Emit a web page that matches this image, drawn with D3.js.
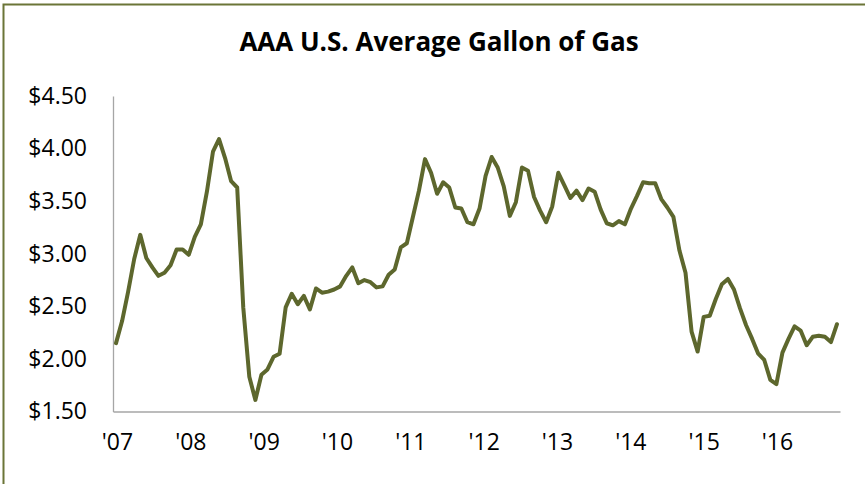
<!DOCTYPE html>
<html>
<head>
<meta charset="utf-8">
<script src="https://cdn.jsdelivr.net/npm/d3@7"></script>
<style>
  html, body { margin: 0; padding: 0; background: #ffffff; }
  svg { display: block; }
  text { font-family: "Open Sans", "Noto Sans", sans-serif; fill: #000; }
</style>
</head>
<body>
<svg id="chart" width="865" height="484"></svg>
<script>
// ---- Data ----
const title = "AAA U.S. Average Gallon of Gas";
const startYear = 2007;
const yearLabels = ["'07", "'08", "'09", "'10", "'11", "'12", "'13", "'14", "'15", "'16"];
// Monthly average price, Jan 2007 – Dec 2016
const prices = [
  2.15, 2.36, 2.64, 2.95, 3.18, 2.96, 2.87, 2.79, 2.82, 2.89, 3.04, 3.04,
  2.99, 3.16, 3.28, 3.59, 3.97, 4.09, 3.91, 3.69, 3.63, 2.49, 1.83, 1.61,
  1.85, 1.90, 2.02, 2.05, 2.49, 2.62, 2.52, 2.60, 2.47, 2.67, 2.63, 2.64,
  2.66, 2.69, 2.79, 2.87, 2.72, 2.75, 2.73, 2.68, 2.69, 2.80, 2.85, 3.06,
  3.10, 3.35, 3.60, 3.90, 3.77, 3.57, 3.68, 3.63, 3.44, 3.43, 3.30, 3.28,
  3.43, 3.74, 3.92, 3.82, 3.64, 3.36, 3.49, 3.82, 3.79, 3.54, 3.41, 3.30,
  3.45, 3.77, 3.65, 3.53, 3.60, 3.51, 3.62, 3.59, 3.42, 3.29, 3.27, 3.31,
  3.28, 3.43, 3.55, 3.68, 3.67, 3.67, 3.52, 3.44, 3.35, 3.03, 2.82, 2.26,
  2.07, 2.40, 2.41, 2.57, 2.71, 2.76, 2.66, 2.48, 2.32, 2.19, 2.05, 1.99,
  1.80, 1.76, 2.06, 2.19, 2.31, 2.27, 2.13, 2.21, 2.22, 2.21, 2.16, 2.33
];
const yTicks = [1.5, 2.0, 2.5, 3.0, 3.5, 4.0, 4.5];

// ---- Layout ----
const svg = d3.select("#chart");
const plot = { left: 113, right: 840, top: 96, bottom: 411.5 };
const lineColor = "#5d672d";
const frameColor = "#6b7537";
const axisColor = "#a6a6a6";

// frame (top and left edges visible, rest cropped)
svg.append("rect")
  .attr("x", 3.5).attr("y", 4.5)
  .attr("width", 1000).attr("height", 700)
  .attr("fill", "none")
  .attr("stroke", frameColor)
  .attr("stroke-width", 2);

const months = prices.map((d, i) => new Date(startYear, i, 1));

const x = d3.scaleBand()
  .domain(months.map(d => +d))
  .range([plot.left, plot.right]);
const xc = d => x(+d) + x.bandwidth() / 2;

const y = d3.scaleLinear()
  .domain([1.5, 4.5])
  .range([plot.bottom, plot.top]);

// Title
svg.append("text")
  .attr("x", 439)
  .attr("y", 51)
  .attr("text-anchor", "middle")
  .style("font-size", "26px")
  .style("font-weight", "700")
  .text(title);

// Y axis
const yAxis = d3.axisLeft(y)
  .tickValues(yTicks)
  .tickSize(0)
  .tickPadding(26)
  .tickFormat(d => "$" + d.toFixed(2));
const gy = svg.append("g")
  .attr("transform", `translate(${plot.left},0)`)
  .call(yAxis);
gy.select(".domain").attr("stroke", axisColor).attr("stroke-width", 1.3);
gy.selectAll("text")
  .style("font-family", "'Open Sans', sans-serif")
  .style("font-size", "23px")
  .attr("fill", "#000");

// X axis line
const xAxis = d3.axisBottom(x).tickValues([]).tickSize(0).tickSizeOuter(0);
const gx = svg.append("g")
  .attr("transform", `translate(0,${plot.bottom})`)
  .call(xAxis);
gx.select(".domain").attr("stroke", axisColor).attr("stroke-width", 1.3);

// Year labels
const xLab = d3.scalePoint()
  .domain(yearLabels)
  .range([117, 777]);
const gxl = svg.append("g")
  .attr("transform", `translate(0,${plot.bottom})`)
  .call(d3.axisBottom(xLab).tickSize(0).tickPadding(22));
gxl.select(".domain").remove();
gxl.selectAll("text")
  .style("font-family", "'Open Sans', sans-serif")
  .style("font-size", "23px")
  .attr("fill", "#000");

// Line
const line = d3.line()
  .x((d, i) => xc(months[i]))
  .y(d => y(d));

svg.append("path")
  .datum(prices)
  .attr("fill", "none")
  .attr("stroke", lineColor)
  .attr("stroke-width", 4)
  .attr("stroke-linejoin", "round")
  .attr("stroke-linecap", "round")
  .attr("d", line);
</script>
</body>
</html>
